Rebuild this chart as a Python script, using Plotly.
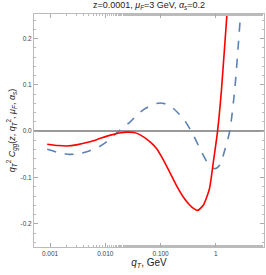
import plotly.graph_objects as go

# q_T values (GeV) and curve values
qt_red = [0.00089, 0.00141, 0.0020, 0.00316, 0.00525, 0.0079, 0.012, 0.0178, 0.0245,
          0.033, 0.0427, 0.0646, 0.085, 0.112, 0.148, 0.195, 0.257, 0.339, 0.398,
          0.468, 0.589, 0.759, 0.891, 1.072, 1.259, 1.585, 1.778]
c_red = [-0.028, -0.031, -0.032, -0.029, -0.023, -0.016, -0.009, -0.004, -0.002,
         -0.003, -0.008, -0.023, -0.038, -0.062, -0.090, -0.118, -0.142, -0.160, -0.167,
         -0.171, -0.160, -0.126, -0.070, 0.0, 0.088, 0.253, 0.33]

qt_blue = [0.00089, 0.00141, 0.00229, 0.00355, 0.00525, 0.0076, 0.0105, 0.0162, 0.0282,
           0.0372, 0.050, 0.0708, 0.0977, 0.129, 0.170, 0.257, 0.363, 0.513, 0.724,
           0.955, 1.175, 1.445, 1.778, 2.188, 2.80, 3.16]
c_blue = [-0.039, -0.046, -0.050, -0.048, -0.042, -0.034, -0.023, -0.003, 0.020,
          0.035, 0.047, 0.057, 0.061, 0.058, 0.049, 0.027, -0.001, -0.037, -0.070,
          -0.081, -0.073, -0.041, 0.0, 0.089, 0.253, 0.33]

x_tickvals = [0.001, 0.01, 0.1, 1]
x_ticktext = ["0.001", "0.010", "0.100", "1"]
y_tickvals = [-0.2, -0.1, 0.0, 0.1, 0.2]
y_ticktext = ["-0.2", "-0.1", "0.0", "0.1", "0.2"]

fig = go.Figure()
fig.add_trace(go.Scatter(x=qt_blue, y=c_blue, mode="lines",
                         line=dict(color="#5E81B5", width=1.6, dash="dash",
                                   shape="spline", smoothing=0.7),
                         showlegend=False))
fig.add_trace(go.Scatter(x=qt_red, y=c_red, mode="lines",
                         line=dict(color="#FF0000", width=1.6,
                                   shape="spline", smoothing=0.6),
                         showlegend=False))

font = "Liberation Sans, Arial, sans-serif"
fig.update_layout(
    width=266, height=275,
    margin=dict(l=34, r=2, t=14, b=28, autoexpand=False),
    paper_bgcolor="white", plot_bgcolor="white",
    font=dict(family=font, color="#444"),
    title=dict(text="z=0.0001, <i>μ<sub>F</sub></i>=3 GeV, <i>α<sub>s</sub></i>=0.2",
               x=0.56, xanchor="center", y=0.995, yanchor="top",
               font=dict(size=9, color="#222")),
    xaxis=dict(type="log", range=[-3.29, 0.87], automargin=False,
               tickvals=x_tickvals, ticktext=x_ticktext,
               tickfont=dict(size=6.5, color="#444"),
               ticks="inside", ticklen=4, tickcolor="#aaa",
               minor=dict(ticks="inside", ticklen=2, tickcolor="#bbb", showgrid=False),
               showgrid=False, showline=True, linecolor="#bbb", linewidth=1, mirror="ticks",
               title=dict(text="<i>q<sub>T</sub></i>, GeV", font=dict(size=10, color="#222"),
                          standoff=3)),
    yaxis=dict(range=[-0.25, 0.253], automargin=False,
               tickvals=y_tickvals, ticktext=y_ticktext,
               tickfont=dict(size=6.5, color="#444"),
               ticks="inside", ticklen=4, tickcolor="#aaa",
               minor=dict(ticks="inside", ticklen=2, tickcolor="#bbb", dtick=0.02, showgrid=False),
               showgrid=False, showline=True, linecolor="#bbb", linewidth=1, mirror="ticks",
               zeroline=True, zerolinecolor="#999", zerolinewidth=1.5,
               title=dict(text="<i>q<sub>T</sub></i><sup>2</sup> <i>C<sub>gg</sub></i>(<i>z</i>, <i>q<sub>T</sub></i><sup>2</sup>, <i>μ<sub>F</sub></i>, <i>α<sub>s</sub></i>)",
                          font=dict(size=9, color="#222"), standoff=3)),
)

fig.write_html("out.html", config={"displayModeBar": False},
               post_script="document.body.style.margin='0';document.body.style.padding='0';")
